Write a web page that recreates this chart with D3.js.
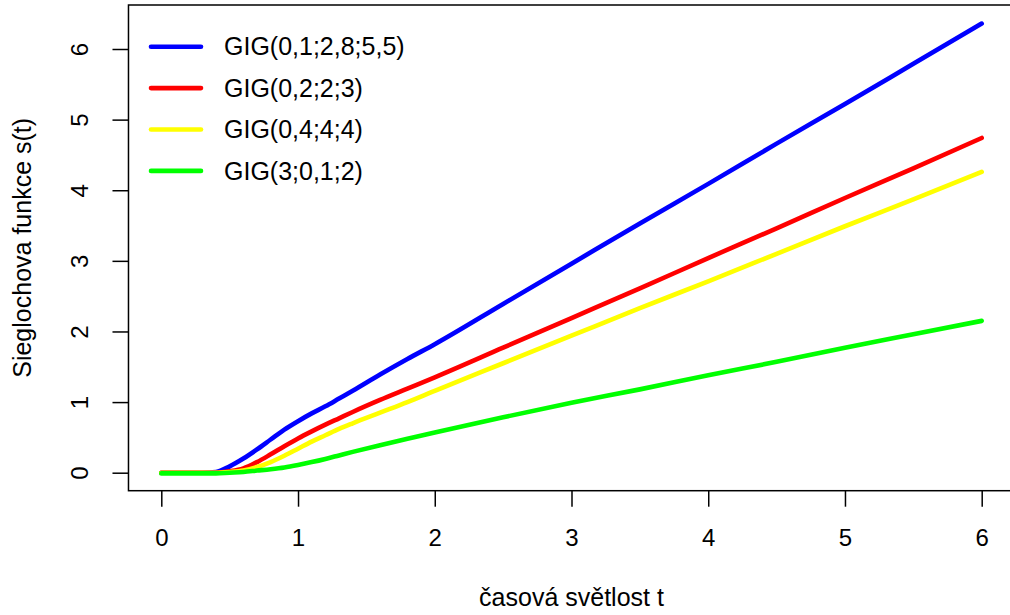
<!DOCTYPE html>
<html>
<head>
<meta charset="utf-8">
<script src="https://cdn.jsdelivr.net/npm/d3@7"></script>
<style>
  body { margin: 0; background: #fff; }
  svg { display: block; font-family: "Liberation Sans", Arial, Helvetica, sans-serif; }
</style>
</head>
<body>
<svg id="chart" width="1010" height="615"></svg>
<script>
// casova svetlost t
const t = [0, 0.2, 0.3, 0.4, 0.5, 0.6, 0.7, 0.8, 0.9, 1.0, 1.1, 1.2, 1.3, 1.4, 1.6, 1.8, 2.0, 2.5, 3.0, 3.5, 4.0, 4.5, 5.0, 5.5, 6.0];

// Sieglochova funkce s(t) for each GIG
const gig1 = [0, 0, 0, 0.01, 0.09, 0.20, 0.33, 0.47, 0.61, 0.73, 0.84, 0.94, 1.05, 1.16, 1.39, 1.61, 1.82, 2.39, 2.96, 3.53, 4.09, 4.66, 5.22, 5.79, 6.36];
const gig2 = [0, 0, 0, 0, 0.02, 0.06, 0.15, 0.26, 0.375, 0.485, 0.585, 0.68, 0.77, 0.86, 1.03, 1.19, 1.35, 1.77, 2.19, 2.61, 3.04, 3.46, 3.89, 4.31, 4.74];
const gig3 = [0, 0, 0, 0, 0.01, 0.03, 0.08, 0.15, 0.24, 0.34, 0.44, 0.53, 0.62, 0.70, 0.85, 1.00, 1.16, 1.55, 1.94, 2.33, 2.71, 3.10, 3.49, 3.87, 4.26];
const gig4 = [-0.01, -0.01, -0.01, -0.01, 0, 0.01, 0.03, 0.05, 0.075, 0.11, 0.15, 0.195, 0.245, 0.295, 0.39, 0.48, 0.57, 0.785, 0.99, 1.18, 1.38, 1.57, 1.77, 1.96, 2.15];

const labels = ["GIG(0,1;2,8;5,5)", "GIG(0,2;2;3)", "GIG(0,4;4;4)", "GIG(3;0,1;2)"];
const colors = ["#0000ff", "#ff0000", "#ffff00", "#00ff00"];
const xTicks = [0, 1, 2, 3, 4, 5, 6];
const yTicks = [0, 1, 2, 3, 4, 5, 6];

const series = [gig1, gig2, gig3, gig4];

const svg = d3.select("#chart");

const x = d3.scaleLinear().domain([0, 6]).range([161.3, 981.7]);
const y = d3.scaleLinear().domain([0, 6]).range([472.7, 49]);

// plot box (R usr region, extends past the right edge)
const box = { left: x(-0.24), right: x(6.24), top: 5, bottom: 490.7 };

svg.append("rect")
  .attr("x", box.left).attr("y", box.top)
  .attr("width", box.right - box.left).attr("height", box.bottom - box.top)
  .attr("fill", "none").attr("stroke", "#000").attr("stroke-width", 1.5);

// x axis
const xAxis = svg.append("g")
  .attr("transform", `translate(0,${box.bottom})`)
  .call(d3.axisBottom(x).tickValues(xTicks).tickSize(16).tickPadding(22).tickFormat(d3.format("d")));
xAxis.select(".domain").remove();
xAxis.selectAll("line").attr("stroke", "#000").attr("stroke-width", 1.5);
xAxis.selectAll("text").attr("font-size", 24).attr("fill", "#000").attr("font-family", null);

// y axis (labels rotated like R las=0)
const yAxis = svg.append("g")
  .attr("transform", `translate(${box.left},0)`)
  .call(d3.axisLeft(y).tickValues(yTicks).tickSize(16).tickFormat(d3.format("d")));
yAxis.select(".domain").remove();
yAxis.selectAll("line").attr("stroke", "#000").attr("stroke-width", 1.5);
yAxis.selectAll("text")
  .attr("font-size", 24).attr("fill", "#000").attr("font-family", null)
  .attr("x", null).attr("dy", null)
  .attr("text-anchor", "middle")
  .attr("transform", "translate(-40,0) rotate(-90)");

// axis titles
svg.append("text")
  .attr("x", (box.left + box.right) / 2).attr("y", 606)
  .attr("text-anchor", "middle").attr("font-size", 25)
  .text("časová světlost t");

svg.append("text")
  .attr("transform", `translate(31,${(box.top + box.bottom) / 2}) rotate(-90)`)
  .attr("text-anchor", "middle").attr("font-size", 25)
  .text("Sieglochova funkce s(t)");

// curves
const line = d3.line()
  .x((d, i) => x(t[i]))
  .y(d => y(d))
  .curve(d3.curveMonotoneX);

series.forEach((s, i) => {
  svg.append("path")
    .datum(s)
    .attr("d", line)
    .attr("fill", "none")
    .attr("stroke", colors[i])
    .attr("stroke-width", 4.6)
    .attr("stroke-linecap", "round")
    .attr("stroke-linejoin", "round");
});

// legend (no box)
const legend = svg.append("g");
labels.forEach((lab, i) => {
  const ly = 46.7 + i * 41.4;
  legend.append("line")
    .attr("x1", 151).attr("x2", 201)
    .attr("y1", ly).attr("y2", ly)
    .attr("stroke", colors[i]).attr("stroke-width", 4.6)
    .attr("stroke-linecap", "round");
  legend.append("text")
    .attr("x", 224).attr("y", ly).attr("dy", "0.35em")
    .attr("font-size", 25)
    .text(lab);
});
</script>
</body>
</html>
